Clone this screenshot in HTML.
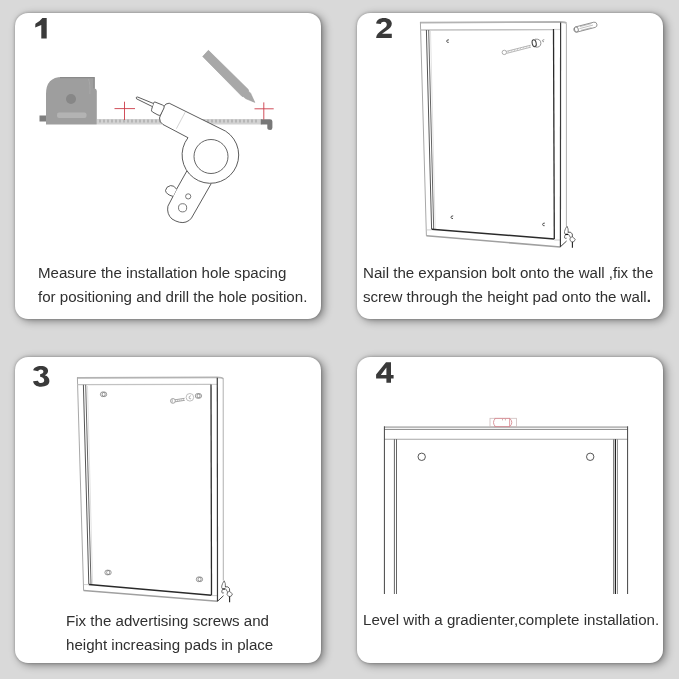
<!DOCTYPE html>
<html>
<head>
<meta charset="utf-8">
<style>
html,body{margin:0;padding:0;}
body{width:679px;height:679px;background:#d9d9d9;position:relative;overflow:hidden;font-family:"Liberation Sans",sans-serif;}
.card{position:absolute;width:306px;height:306px;background:#fff;border-radius:13px;box-shadow:3px 2px 8px rgba(0,0,0,0.42), 0 0 3px rgba(0,0,0,0.3);}
.txt{position:absolute;font-size:15.1px;color:#303030;will-change:transform;line-height:23.5px;white-space:nowrap;}
svg{position:absolute;left:0;top:0;}
</style>
</head>
<body>
<div class="card" style="left:15px;top:13px"></div>
<div class="card" style="left:357px;top:13px"></div>
<div class="card" style="left:15px;top:357px"></div>
<div class="card" style="left:357px;top:357px"></div>

<div class="txt" style="left:38px;top:261px">Measure the installation hole spacing<br>for positioning and drill the hole position.</div>
<div class="txt" style="left:363px;top:261px">Nail the expansion bolt onto the wall ,fix the<br>screw through the height pad onto the wall<b>.</b></div>
<div class="txt" style="left:65.6px;top:609px">Fix the advertising screws and<br>height increasing pads in place</div>
<div class="txt" style="left:363px;top:607.7px">Level with a gradienter,complete installation.</div>

<svg width="679" height="679" viewBox="0 0 679 679">
<!-- digits -->
<g fill="#3a3a3a">
<path d="M42.4 18.1 L46.7 18.1 L46.7 38.5 L41.3 38.5 L41.3 25.1 L35.2 27.6 L35.4 23.7 Q40 21.5 42.4 18.1 Z"/>
<path d="M376.1 23.6 C376.5 20 379.5 17.9 384 17.9 C388.8 17.9 391.8 20.3 391.8 23.6 C391.8 26.5 390 28.3 387 30.3 L382 33.8 L391.8 33.8 L391.8 37.9 L376.1 37.9 C376.3 35 378.3 32.5 382 30 L385 27.8 C386.3 26.8 386.8 25.5 386.8 24.5 C386.8 22.8 385.6 21.7 384 21.7 C382.2 21.7 381 22.6 380.9 24 Z"/>
<path d="M33.1 370.3 C33.8 367.5 36.8 365.9 40.8 365.9 C45.5 365.9 48.1 368 48.1 370.8 C48.1 373 46.8 374.5 44.8 375.3 C47.8 376.1 49.4 378.3 49.4 381 C49.4 384.6 46 386.7 41 386.7 C36.5 386.7 33.5 384.6 33.1 381.2 L38 380.7 C38.3 382.2 39.5 383 41 383 C43 383 44.2 382 44.2 380.3 C44.2 378.3 42.6 377 40.3 376.7 L40.1 376.7 L40.1 374.2 C42.4 374 43.4 373 43.4 371.6 C43.4 370.2 42.2 369.4 40.8 369.4 C39.4 369.4 38.5 370.2 38.2 371.2 Z"/>
<path fill-rule="evenodd" d="M386 362.3 L391 362.3 L391 374.9 L393.6 374.9 L393.6 378.6 L391 378.6 L391 382.7 L386.4 382.7 L386.4 378.6 L376.1 378.6 L376.1 374.6 Z M386.4 367.5 L386.4 374.9 L380.8 374.9 Z"/>
</g>
<!-- ===== CARD 1 ===== -->
<!-- tape -->
<rect x="97" y="119" width="165" height="5.5" fill="#d2d2d2"/>
<g stroke="#9a9a9a" stroke-width="1">
<path d="M100 119.5v3M104 119.5v3M108 119.5v3M112 119.5v3M116 119.5v3M120 119.5v3M124 119.5v3M128 119.5v3M132 119.5v3M136 119.5v3M140 119.5v3M144 119.5v3M148 119.5v3M152 119.5v3M156 119.5v3M160 119.5v3M196 119.5v3M200 119.5v3M204 119.5v3M208 119.5v3M212 119.5v3M216 119.5v3M220 119.5v3M224 119.5v3M228 119.5v3M232 119.5v3M236 119.5v3M240 119.5v3M244 119.5v3M248 119.5v3M252 119.5v3M256 119.5v3"/>
</g>
<!-- tape hook -->
<path d="M260.8 119.2 H270 Q272.4 119.2 272.4 121.6 V127.8 Q272.4 130 270.2 130 Q267.3 130 267.3 127.8 V124.6 H260.8 Z" fill="#787878"/>
<!-- tape body -->
<path d="M46 124.5 V94 Q46 77 62 77 H94.8 V88.6 Q96.6 89 96.8 91 V124.5 Z" fill="#9e9e9e"/>
<path d="M60 77.6 H94.5" stroke="#8a8a8a" stroke-width="1.2"/>
<path d="M94 78 V88.5" stroke="#8a8a8a" stroke-width="1.2"/>
<path d="M88.5 79 Q90.5 84 89.8 94" stroke="#a8a8a8" stroke-width="1" fill="none"/>
<circle cx="71" cy="99" r="5" fill="#878787"/>
<rect x="57" y="112.5" width="29.5" height="5.5" rx="2" fill="#b3b3b3"/>
<rect x="39.5" y="115.5" width="6.5" height="6" fill="#7e7e7e"/>
<!-- red crosses -->
<g stroke="#cc3b48" stroke-width="0.9">
<path d="M114.5 108.6 H135 M124.5 101.7 V120"/>
<path d="M254.5 108.8 H273.7 M263.8 102.4 V119.5"/>
</g>
<!-- pencil -->
<path d="M202.7 56.5 L208.4 50.3 L248.2 89.4 L248.8 91.4 L250.6 93.2 L254.8 102.4 L245.6 98.6 L243.6 96.8 L241.9 96.3 Z" fill="#a8a8a8" stroke="#9a9a9a" stroke-width="0.6" stroke-linejoin="round"/>
<!-- drill -->
<g fill="#fff" stroke="#4a4a4a" stroke-width="0.9" stroke-linejoin="round">
<!-- handle -->
<path d="M187 170.7 L176.6 189.2 L173 196.4 L167.9 206.2 Q166.5 214 172 219 Q180 224 186 222 Q190 220.5 191.5 218 L211.2 183.6"/>
<!-- trigger -->
<path d="M176.6 189.2 Q174 185 170.5 185.6 Q166 186.5 165.5 190.5 Q166 194.5 173 196.4"/>
<!-- body -->
<path d="M169.2 103.2 L225.7 131.2 A28.3 28.3 0 1 1 188 137.7 L163 124.5 Q159.5 122.5 159.5 118 L163.5 107 Q165.5 103 169.2 103.2 Z"/>
<!-- chuck -->
<path d="M155 102 L162.5 105 Q165 106 164 108 L160.8 114.5 Q160 116 158 115 L152.5 112 Q151 111 151.6 109.5 L153.5 103 Q154 101.8 155 102 Z"/>
<!-- bit -->
<path d="M153.2 103.4 L137.6 97 Q135.5 96.8 136.5 98.8 L152.2 106.5"/>
</g>
<circle cx="211" cy="156.5" r="17" fill="none" stroke="#555" stroke-width="0.9"/>
<path d="M185.2 112.2 L176.4 128.7" stroke="#c8c8c8" stroke-width="0.8"/>
<circle cx="188.2" cy="196.4" r="2.6" fill="none" stroke="#555" stroke-width="0.8"/>
<circle cx="182.6" cy="207.8" r="4.1" fill="none" stroke="#555" stroke-width="0.8"/>

<!-- ===== CARD 2 ===== -->
<g fill="none" stroke-linecap="butt">
<path d="M420 22.6 L560.3 22 Q565.9 22 566.4 23.6" stroke="#b3b3b3" stroke-width="1.8"/>
<path d="M420.4 22 L426.4 235.8" stroke="#a8a8a8" stroke-width="1"/>
<path d="M420.4 30 L553.6 29.6" stroke="#c2c2c2" stroke-width="1.4"/>
<path d="M553.6 29.5 L560.3 29.5" stroke="#d5d5d5" stroke-width="1.2"/>
<path d="M426.4 30 L431.6 229.3" stroke="#555" stroke-width="1"/>
<path d="M428.7 30 L433.7 229.3" stroke="#666" stroke-width="1"/>
<path d="M430.5 31 L435.2 229" stroke="#e2e2e2" stroke-width="1"/>
<path d="M553.5 29 L554.3 239" stroke="#2a2a2a" stroke-width="1.3"/>
<path d="M431.6 229.3 L554.3 239" stroke="#2a2a2a" stroke-width="1.5"/>
<path d="M426.6 229.9 L431.6 229.9" stroke="#c4c4c4" stroke-width="0.8"/>
<path d="M426.4 235.8 L560.3 247" stroke="#a0a0a0" stroke-width="1.5"/>
<path d="M554.3 240 L560.3 240" stroke="#bbb" stroke-width="0.8"/>
<path d="M560.6 22.5 L560.4 247" stroke="#3a3a3a" stroke-width="1.2"/>
<path d="M566.4 23.5 L566.4 226" stroke="#b0b0b0" stroke-width="1"/>
<path d="M560.4 246.8 L566.6 241" stroke="#444" stroke-width="1"/>
</g>
<!-- pad/bracket card 2 -->
<defs>
<g id="brk" fill="none" stroke="#333" stroke-width="0.8">
<path d="M567 226.2 Q565.2 228.5 564.5 231.5 Q564.2 233.5 565.3 234.3 M567 226.2 Q568.6 228.5 568.2 232.5" stroke="#555"/>
<path d="M565.2 234.4 H568" stroke="#111" stroke-width="1.3"/>
<path d="M565.3 234.8 Q564.2 236.5 564.7 238 Q565.6 238.8 566.6 238.2" stroke="#444"/>
<path d="M567.8 232.2 Q571.2 231.4 572.3 234 L572.4 237" stroke="#333"/>
<path d="M568.3 234 L570.3 237.2" stroke="#555"/>
<path d="M570.3 237.4 L572.4 236.9 L575.3 239.3 L574 241.6 L571.6 242 L569.9 240 Z" stroke="#555" fill="#fff"/>
<path d="M572.4 242 V247.7" stroke="#222" stroke-width="1.1"/>
</g>
</defs>
<use href="#brk"/>
<use href="#brk" transform="translate(-342.8 354.6)"/>
<!-- dots card 2 -->
<g fill="none" stroke="#3a3a3a" stroke-width="0.9">
<path d="M448.9 39.8 Q446.6 39.6 446.7 41.3 Q447 42.8 448.7 42.4"/>
<path d="M453.2 215.9 Q450.9 215.7 451 217.4 Q451.3 218.9 453 218.5"/>
<path d="M544.8 223.1 Q542.5 222.9 542.6 224.6 Q542.9 226.1 544.6 225.7"/>
</g>
<!-- screw + anchor card 2 -->
<g fill="#fff" stroke="#666" stroke-width="0.8">
<path d="M506.2 51.4 L530.6 45.2 M506.6 53.4 L531 47.1" stroke="#999" stroke-width="0.7"/>
<path d="M508 52.6 l1.2 -1.9 M511 51.8 l1.2 -1.9 M514 51 l1.2 -1.9 M517 50.2 l1.2 -1.9 M520 49.4 l1.2 -1.9 M523 48.6 l1.2 -1.9 M526 47.8 l1.2 -1.9 M529 47 l1.2 -1.9" stroke="#aaa" stroke-width="0.6"/>
<circle cx="504.3" cy="52.4" r="2.2" stroke="#999"/>
<path d="M535 39.2 Q540.8 38.6 540.9 43.3 Q540.6 47.6 535.6 47.2" stroke="#777" fill="none"/>
<ellipse cx="534.2" cy="43.2" rx="2" ry="3.5" transform="rotate(-12 534.2 43.2)" stroke="#4a4a4a" stroke-width="1.1"/>
<path d="M544.3 39.7 Q542.3 39.6 542.4 40.9 Q542.6 42 544 41.7" stroke="#777" fill="none" stroke-width="0.7"/>
<path d="M575.6 26.9 L593.8 22.2 A2.7 2.7 0 0 1 595.2 27.4 L577 32.1 A2.7 2.7 0 0 1 575.6 26.9 Z" stroke="#777" stroke-width="0.8"/>
<ellipse cx="576.4" cy="29.5" rx="1.9" ry="2.6" transform="rotate(-14 576.4 29.5)" stroke="#777" stroke-width="0.8"/>
<path d="M580 26.6 L591.5 23.6 M579.5 28.6 L593 25.1 M581 30.3 L591.5 27.6" stroke="#999" stroke-width="0.6"/>
</g>

<!-- ===== CARD 3 ===== -->
<g fill="none" stroke-linecap="butt">
<path d="M77 377.9 L217 377.4 Q222.5 377.4 223.2 379" stroke="#b3b3b3" stroke-width="1.8"/>
<path d="M77.4 377.5 L83.6 590.6" stroke="#a8a8a8" stroke-width="1"/>
<path d="M77.4 384.6 L211 384.4" stroke="#c2c2c2" stroke-width="1.4"/>
<path d="M211 384.4 L217 384.4" stroke="#d5d5d5" stroke-width="1.2"/>
<path d="M83.4 384.8 L88.8 584.4" stroke="#555" stroke-width="1"/>
<path d="M85.7 384.8 L91 584.4" stroke="#666" stroke-width="1"/>
<path d="M87.5 386 L92.6 584" stroke="#e2e2e2" stroke-width="1"/>
<path d="M211 384.4 L211.5 595.2" stroke="#2a2a2a" stroke-width="1.3"/>
<path d="M88.8 584.4 L211.5 595.2" stroke="#2a2a2a" stroke-width="1.5"/>
<path d="M83.8 584.6 L88.8 584.6" stroke="#c4c4c4" stroke-width="0.8"/>
<path d="M83.6 590.6 L217.5 601.3" stroke="#a0a0a0" stroke-width="1.5"/>
<path d="M211.5 595.6 L217.3 595.6" stroke="#bbb" stroke-width="0.8"/>
<path d="M217.3 377.8 L217.5 601.3" stroke="#3a3a3a" stroke-width="1.2"/>
<path d="M223.2 379 L223.3 580.5" stroke="#b0b0b0" stroke-width="1"/>
<path d="M217.5 601.3 L223.5 595.7" stroke="#444" stroke-width="1"/>
</g>
<g fill="none" stroke="#7a7a7a" stroke-width="0.75">
<circle cx="102.8" cy="394.3" r="2.4"/><circle cx="104.4" cy="394.3" r="2.3"/>
<circle cx="197.7" cy="395.9" r="2.4"/><circle cx="199.3" cy="395.9" r="2.3"/>
<circle cx="107.3" cy="572.5" r="2.4"/><circle cx="108.9" cy="572.5" r="2.3"/>
<circle cx="198.7" cy="579.3" r="2.4"/><circle cx="200.3" cy="579.3" r="2.3"/>
<circle cx="189.9" cy="397.3" r="3.8" stroke="#aaa"/>
<path d="M190.9 395.7 Q188.6 396.2 189.1 398.2 Q189.8 399.4 191.1 398.6" stroke="#999"/>
<path d="M175 399.8 L184.6 398.3 M175.2 401.8 L184.8 400.3" stroke="#888"/>
<path d="M177 401.5 l0.8 -1.7 M179 401.2 l0.8 -1.7 M181 400.9 l0.8 -1.7 M183 400.6 l0.8 -1.7" stroke="#aaa" stroke-width="0.6"/>
<circle cx="172.9" cy="400.9" r="2.4" stroke="#888"/>
<path d="M172.2 399.2 V402.6" stroke="#999"/>
</g>

<!-- ===== CARD 4 ===== -->
<g fill="none">
<path d="M384.4 427.1 L627.6 427.1" stroke="#bababa" stroke-width="1.9"/>
<path d="M384.4 429.4 L627.6 429.4" stroke="#7a7a7a" stroke-width="0.9"/>
<path d="M384.4 439.2 L627.6 439.2" stroke="#a6a6a6" stroke-width="1.1"/>
<path d="M384.4 426.3 L384.4 594" stroke="#444" stroke-width="1"/>
<path d="M627.6 426.3 L627.6 594" stroke="#444" stroke-width="1"/>
<path d="M394.4 439.2 L394.4 594" stroke="#555" stroke-width="0.9"/>
<path d="M396.5 439.2 L396.5 594" stroke="#555" stroke-width="0.9"/>
<path d="M613.5 439.2 L613.5 594" stroke="#777" stroke-width="0.9"/>
<path d="M615.4 439.2 L615.4 594" stroke="#222" stroke-width="1.3"/>
<path d="M617.5 439.2 L617.5 594" stroke="#888" stroke-width="0.9"/>
<circle cx="421.7" cy="456.8" r="3.7" stroke="#444" stroke-width="0.9"/>
<circle cx="590.2" cy="456.8" r="3.7" stroke="#444" stroke-width="0.9"/>
<!-- level -->
<rect x="490" y="418.3" width="26.5" height="8.4" stroke="#cdbcbc" stroke-width="0.8"/>
<path d="M494.5 418.4 H510 M494.5 426.6 H510 M509.6 418.4 V426.6" stroke="#d98890" stroke-width="0.8"/>
<path d="M495.2 418.6 Q491.8 422.5 495.2 426.4 M510 418.6 Q513.6 422.5 510 426.4" stroke="#d07c84" stroke-width="0.8"/>
<path d="M502.5 418.8 v1.6 M505.4 418.8 v1.6" stroke="#c9a0a0" stroke-width="0.8"/>
</g>
</svg>
</body>
</html>
